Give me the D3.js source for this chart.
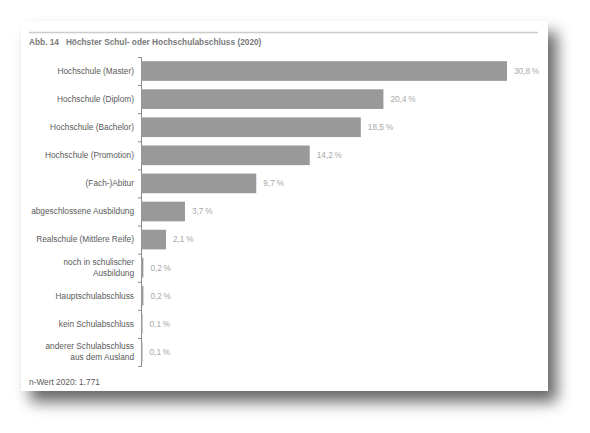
<!DOCTYPE html>
<head>
   <meta charset="utf-8">
   <script src="https://d3js.org/d3.v7.min.js"></script>
   <style>
      body { margin: 0; background: #ffffff; }
      text { font-family: "Liberation Sans", Arial, sans-serif; }
      text.title { font-size: 8.3px; font-weight: 700; fill: #7a7a7a; }
      text.label { font-size: 8.3px; fill: #5a5a5a; }
      text.valueLabel { font-size: 8.3px; fill: #a8a8a8; }
      text.caption { font-size: 8.3px; fill: #5a5a5a; }
      .yAxis path, .yAxis line { stroke: #8a8a8a; }
   </style>
</head>

<body>
   <script>
      const width = 590;
      const height = 433;

      // data
      const categories = [
         'Hochschule (Master)',
         'Hochschule (Diplom)',
         'Hochschule (Bachelor)',
         'Hochschule (Promotion)',
         '(Fach-)Abitur',
         'abgeschlossene Ausbildung',
         'Realschule (Mittlere Reife)',
         'noch in schulischer\nAusbildung',
         'Hauptschulabschluss',
         'kein Schulabschluss',
         'anderer Schulabschluss\naus dem Ausland'
      ];
      const values = [30.8, 20.4, 18.5, 14.2, 9.7, 3.7, 2.1, 0.2, 0.2, 0.1, 0.1];
      const valueLabels = ['30,8\u2009%', '20,4\u2009%', '18,5\u2009%', '14,2\u2009%', '9,7\u2009%', '3,7\u2009%', '2,1\u2009%', '0,2\u2009%', '0,2\u2009%', '0,1\u2009%', '0,1\u2009%'];

      const titleText = 'Abb. 14\u00a0\u00a0 Höchster Schul- oder Hochschulabschluss (2020)';
      const captionText = 'n-Wert 2020: 1.771';

      const card = { left: 21, top: 21, right: 548, bottom: 391 };
      const margin = { top: 57, bottom: 366, left: 141 };

      const svg = d3.select('body').append('svg')
         .attr('width', width)
         .attr('height', height);

      // drop shadow for the card
      const defs = svg.append('defs');
      const filter = defs.append('filter')
         .attr('id', 'cardshadow')
         .attr('x', '-10%').attr('y', '-10%')
         .attr('width', '130%').attr('height', '140%');
      filter.append('feGaussianBlur')
         .attr('in', 'SourceAlpha')
         .attr('stdDeviation', 7.5)
         .attr('result', 'blur');
      filter.append('feOffset')
         .attr('in', 'blur')
         .attr('dx', 9)
         .attr('dy', 11)
         .attr('result', 'offsetBlur');
      filter.append('feComponentTransfer')
         .attr('in', 'offsetBlur')
         .attr('result', 'shadow')
         .append('feFuncA')
         .attr('type', 'linear')
         .attr('slope', 0.6);
      const feMerge = filter.append('feMerge');
      feMerge.append('feMergeNode').attr('in', 'shadow');
      feMerge.append('feMergeNode').attr('in', 'SourceGraphic');

      svg.append('rect')
         .attr('x', card.left)
         .attr('y', card.top)
         .attr('width', card.right - card.left)
         .attr('height', card.bottom - card.top)
         .style('fill', '#ffffff')
         .attr('filter', 'url(#cardshadow)');

      // rule above the title
      svg.append('line')
         .attr('x1', 29).attr('x2', 538)
         .attr('y1', 32.5).attr('y2', 32.5)
         .style('stroke', '#cccccc')
         .style('stroke-width', 1.5);

      svg.append('text')
         .attr('class', 'title')
         .attr('x', 29)
         .attr('y', 45)
         .text(titleText);

      svg.append('text')
         .attr('class', 'caption')
         .attr('x', 29)
         .attr('y', 385)
         .text(captionText);

      const x = d3.scaleLinear()
         .domain([0, 30.8])
         .range([margin.left, 507]);

      const y = d3.scaleBand()
         .domain(categories)
         .range([margin.top, margin.bottom])
         .paddingInner(0.3)
         .paddingOuter(0.15);

      // axis with ticks on the band boundaries
      const yEdges = d3.scaleLinear()
         .domain([0, categories.length])
         .range([margin.top, margin.bottom]);

      svg.append('g')
         .attr('class', 'yAxis')
         .attr('transform', `translate(${margin.left}, 0)`)
         .call(d3.axisLeft(yEdges)
            .ticks(categories.length)
            .tickSize(3)
            .tickSizeOuter(3)
            .tickFormat(''));

      svg.selectAll('rect.bar')
         .data(values)
         .enter()
         .append('rect')
         .attr('class', 'bar')
         .attr('x', x(0))
         .attr('y', (d, i) => y(categories[i]))
         .attr('width', d => Math.max(x(d) - x(0), 1.5))
         .attr('height', y.bandwidth())
         .style('fill', '#999999');

      svg.selectAll('text.valueLabel')
         .data(values)
         .enter()
         .append('text')
         .attr('class', 'valueLabel')
         .attr('x', d => Math.max(x(d), x(0) + 1.5) + 7)
         .attr('y', (d, i) => y(categories[i]) + y.bandwidth() / 2)
         .attr('dy', '0.35em')
         .text((d, i) => valueLabels[i]);

      const labels = svg.selectAll('text.label')
         .data(categories)
         .enter()
         .append('text')
         .attr('class', 'label')
         .attr('x', margin.left - 7)
         .attr('y', d => y(d) + y.bandwidth() / 2)
         .style('text-anchor', 'end');

      labels.each(function (d) {
         const lines = d.split('\n');
         const t = d3.select(this);
         lines.forEach((line, k) => {
            t.append('tspan')
               .attr('x', margin.left - 7)
               .attr('dy', k === 0 ? `${0.35 - (lines.length - 1) * 0.65}em` : '1.3em')
               .text(line);
         });
      });
   </script>
</body>
